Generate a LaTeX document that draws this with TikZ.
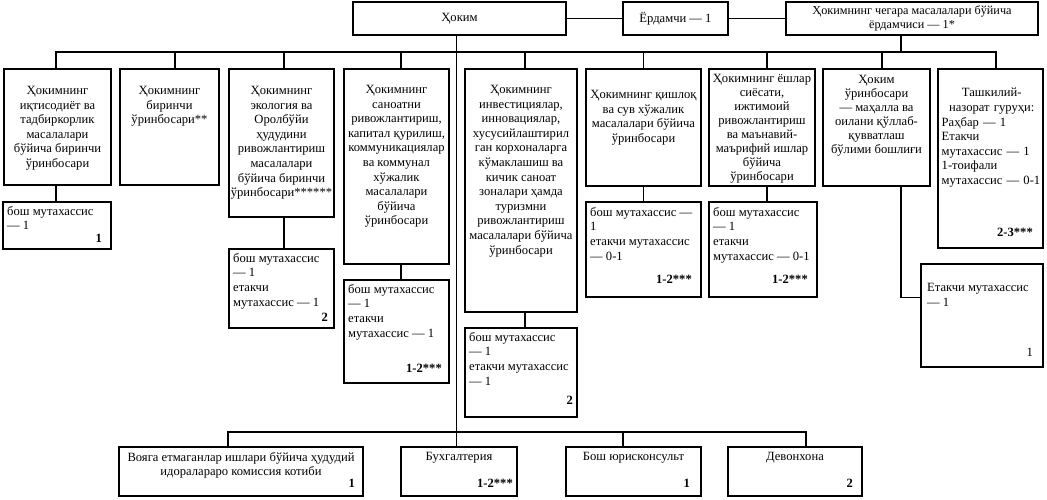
\documentclass[tikz,border=0pt]{standalone}
\usepackage{fontspec}
\setmainfont{Liberation Serif}
\usetikzlibrary{calc}
\newcommand\myfs{\fontsize{12.6}{14.6}\selectfont}
\newcommand\myfst{\fontsize{12.6}{14.0}\selectfont}
\newcommand\myfsc{\fontsize{12.2}{14.0}\selectfont}
\tikzset{
 box/.style={draw, line width=1.8pt, inner sep=0pt, outer sep=0pt, anchor=north west},
 conn/.style={line width=1.9pt},
 ctext/.style={inner sep=0pt, align=center, font=\myfs, anchor=north},
 ltext/.style={inner sep=0pt, align=left, font=\myfs, anchor=north west},
 num/.style={inner sep=0pt, font=\myfs\bfseries, anchor=south east},
 plainnum/.style={inner sep=0pt, font=\myfs, anchor=south east},
}
\newcommand\bx[5]{\node[box, minimum width={#4-#2}, minimum height={#5-#3}] (#1) at (#2,#3) {};}
\begin{document}
\begin{tikzpicture}[x=1pt,y=-1pt]
\useasboundingbox[fill=white] (0,0) rectangle (1047,499);
% boxes
\bx{hokim}{353}{2}{566}{35}
\bx{yord}{623}{2}{728}{35}
\bx{cheg}{786}{2}{1038}{35}
\bx{b1}{4}{69}{111}{185}
\bx{b2}{120}{69}{219}{185}
\bx{b3}{229}{69}{334}{217}
\bx{b4}{344}{69}{449}{264}
\bx{b5}{465}{69}{577}{312}
\bx{b6}{586}{69}{701}{186}
\bx{b7}{709}{69}{815}{186}
\bx{b8}{823}{69}{930}{186}
\bx{b9}{938}{69}{1043}{248}
\bx{s1}{3}{202}{111}{249}
\bx{s3}{229}{249}{334}{328}
\bx{s4}{344}{280}{449}{383}
\bx{s5}{465}{328}{577}{417}
\bx{s6}{586}{202}{701}{297}
\bx{s7}{709}{202}{817}{297}
\bx{s8}{921}{264}{1043}{367}
\bx{d1}{119}{447}{363}{496}
\bx{d2}{401}{447}{517}{496}
\bx{d3}{566}{447}{701}{496}
\bx{d4}{728}{447}{862}{496}
% texts
\node[ctext, anchor=center] (hokimt) at (hokim.center) {Ҳоким};
\node[ctext, anchor=center] (yordt) at (yord.center) {Ёрдамчи — 1};
\node[ctext, anchor=center, font=\myfsc] (chegt) at (cheg.center) {Ҳокимнинг чегара масалалари бўйича\\ёрдамчиси — 1*};
\node[ctext] (b1t) at ([yshift=-17pt]b1.north) {Ҳокимнинг\\иқтисодиёт ва\\тадбиркорлик\\масалалари\\бўйича биринчи\\ўринбосари};
\node[ctext] (b2t) at ([yshift=-17pt]b2.north) {Ҳокимнинг\\биринчи\\ўринбосари**};
\node[ctext] (b3t) at ([yshift=-17pt]b3.north) {Ҳокимнинг\\экология ва\\Оролбўйи\\ҳудудини\\ривожлантириш\\масалалари\\бўйича биринчи\\ўринбосари******};
\node[ctext] (b4t) at ([yshift=-16pt]b4.north) {Ҳокимнинг\\саноатни\\ривожлантириш,\\капитал қурилиш,\\коммуникациялар\\ва коммунал\\хўжалик\\масалалари\\бўйича\\ўринбосари};
\node[ctext] (b5t) at ([yshift=-16pt]b5.north) {Ҳокимнинг\\инвестициялар,\\инновациялар,\\хусусийлаштирил\\ган корхоналарга\\кўмаклашиш ва\\кичик саноат\\зоналари ҳамда\\туризмни\\ривожлантириш\\масалалари бўйича\\ўринбосари};
\node[ctext] (b6t) at ([yshift=-21pt]b6.north) {Ҳокимнинг қишлоқ\\ва сув хўжалик\\масалалари бўйича\\ўринбосари};
\node[ctext, font=\myfst] (b7t) at ([yshift=-5pt]b7.north) {Ҳокимнинг ёшлар\\сиёсати,\\ижтимоий\\ривожлантириш\\ва маънавий-\\маърифий ишлар\\бўйича\\ўринбосари};
\node[ctext, font=\myfst] (b8t) at ([yshift=-6pt]b8.north) {Ҳоким\\ўринбосари\\— маҳалла ва\\оилани қўллаб-\\қувватлаш\\бўлими бошлиғи};
\node[inner sep=0pt, font=\myfs, anchor=north west, text width=100pt, align=left] (b9t) at ([shift={(3.5pt,-19pt)}]b9.north west) {{\centering Ташкилий-\\назорат гуруҳи:\par}Раҳбар — 1\\Етакчи\\мутахассис — 1\\1-тоифали\\мутахассис — 0-1};
\node[num] (b9n) at ([shift={(-10pt,11pt)}]b9.south east) {2-3***};
\node[ltext] (s1t) at ([shift={(4pt,-4pt)}]s1.north west) {бош мутахассис\\— 1};
\node[num] (s1n) at ([shift={(-9pt,6pt)}]s1.south east) {1};
\node[ltext] (s3t) at ([shift={(4pt,-4pt)}]s3.north west) {бош мутахассис\\— 1\\етакчи\\мутахассис — 1};
\node[num] (s3n) at ([shift={(-6pt,6pt)}]s3.south east) {2};
\node[ltext] (s4t) at ([shift={(4pt,-4pt)}]s4.north west) {бош мутахассис\\— 1\\етакчи\\мутахассис — 1};
\node[num] (s4n) at ([shift={(-7pt,10pt)}]s4.south east) {1-2***};
\node[ltext] (s5t) at ([shift={(4pt,-4pt)}]s5.north west) {бош мутахассис\\— 1\\етакчи мутахассис\\— 1};
\node[num] (s5n) at ([shift={(-4pt,12pt)}]s5.south east) {2};
\node[ltext] (s6t) at ([shift={(4pt,-5pt)}]s6.north west) {бош мутахассис —\\1\\етакчи мутахассис\\— 0-1};
\node[num] (s6n) at ([shift={(-9pt,13pt)}]s6.south east) {1-2***};
\node[ltext] (s7t) at ([shift={(4pt,-5pt)}]s7.north west) {бош мутахассис\\— 1\\етакчи\\мутахассис — 0-1};
\node[num] (s7n) at ([shift={(-9pt,13pt)}]s7.south east) {1-2***};
\node[ltext] (s8t) at ([shift={(6pt,-19pt)}]s8.north west) {Етакчи мутахассис\\— 1};
\node[plainnum] (s8n) at ([shift={(-10pt,10pt)}]s8.south east) {1};
\node[ctext] (d1t) at ([yshift=-5pt]d1.north) {Вояга етмаганлар ишлари бўйича ҳудудий\\идоралараро комиссия котиби};
\node[num] (d1n) at ([shift={(-8pt,8pt)}]d1.south east) {1};
\node[ctext] (d2t) at ([yshift=-5pt]d2.north) {Бухгалтерия};
\node[num] (d2n) at ([shift={(-4pt,8pt)}]d2.south east) {1-2***};
\node[ctext] (d3t) at ([yshift=-5pt]d3.north) {Бош юрисконсульт};
\node[num] (d3n) at ([shift={(-11pt,8pt)}]d3.south east) {1};
\node[ctext] (d4t) at ([yshift=-5pt]d4.north) {Девонхона};
\node[num] (d4n) at ([shift={(-9pt,8pt)}]d4.south east) {2};
% connectors top
\draw[conn] (hokim.east) -- (yord.west);
\draw[conn] (yord.east) -- (cheg.west |- yord.east);
\coordinate (tb) at (0,52);
\coordinate (bb) at (0,432);
\coordinate (p1) at ([xshift=-1.5pt]b1.north);
\coordinate (p2) at ([xshift=5.5pt]b2.north);
\coordinate (p3) at ([xshift=2.5pt]b3.north);
\coordinate (p4) at ([xshift=4.5pt]b4.north);
\coordinate (p5) at ([xshift=4pt]b5.north);
\coordinate (p6) at (b6.north);
\coordinate (p7) at ([xshift=5pt]b7.north);
\coordinate (p8) at ([xshift=5.5pt]b8.north);
\coordinate (p9) at ([xshift=5.5pt]b9.north);
\coordinate (pc) at ([xshift=-11pt]cheg.south);
\draw[conn] (p1) -- (p1 |- tb) -- (p9 |- tb) -- (p9);
\foreach \p in {p2,p3,p4,p5,p6,p7,p8,pc} {\draw[conn] (\p) -- (\p |- tb);}
% sub connectors
\coordinate (q1) at ([xshift=-1.5pt]b1.south);
\coordinate (q3) at ([xshift=2.5pt]b3.south);
\coordinate (q4) at ([xshift=4.5pt]b4.south);
\coordinate (q5) at ([xshift=4pt]b5.south);
\coordinate (q6) at (b6.south);
\coordinate (q7) at ([xshift=5pt]b7.south);
\coordinate (q8) at ([xshift=24.5pt]b8.south);
\draw[conn] (q1) -- (q1 |- s1.north);
\draw[conn] (q3) -- (q3 |- s3.north);
\draw[conn] (q4) -- (q4 |- s4.north);
\draw[conn] (q5) -- (q5 |- s5.north);
\draw[conn] (q6) -- (q6 |- s6.north);
\draw[conn] (q7) -- (q7 |- s7.north);
\draw[conn] (q8) |- ([yshift=18pt]s8.west);
% bottom
\coordinate (r1) at ([xshift=-13pt]d1.north);
\coordinate (r3) at ([xshift=-10.5pt]d3.north);
\coordinate (r4) at ([xshift=11pt]d4.north);
\draw[conn] ([xshift=-3pt]hokim.south) -- ([xshift=-3pt]hokim.south |- d2.north);
\draw[conn] (r1) -- (r1 |- bb) -- (r4 |- bb) -- (r4);
\draw[conn] (r3) -- (r3 |- bb);
\end{tikzpicture}
\end{document}
